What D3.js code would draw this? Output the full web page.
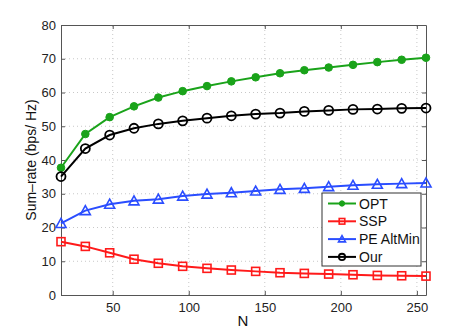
<!DOCTYPE html>
<html>
<head>
<meta charset="utf-8">
<script src="https://cdn.jsdelivr.net/npm/d3@7"></script>
<style>
  body { margin: 0; background: #fff; }
  svg { font-family: "Liberation Sans", Arial, sans-serif; }
</style>
</head>
<body>
<svg id="chart"></svg>
<script>
// Data
const N = [16, 32, 48, 64, 80, 96, 112, 128, 144, 160, 176, 192, 208, 224, 240, 256];
const opt = [37.7, 47.7, 52.7, 55.9, 58.5, 60.4, 61.9, 63.3, 64.5, 65.7, 66.6, 67.4, 68.2, 69.0, 69.7, 70.3];
const ssp = [15.8, 14.4, 12.5, 10.6, 9.4, 8.5, 7.9, 7.4, 7.0, 6.6, 6.4, 6.2, 6.0, 5.8, 5.7, 5.6];
const peAltMin = [21.2, 25.0, 26.9, 27.9, 28.4, 29.3, 29.9, 30.3, 30.8, 31.3, 31.6, 32.1, 32.5, 32.8, 33.0, 33.2];
const our = [35.1, 43.4, 47.4, 49.4, 50.7, 51.6, 52.4, 53.1, 53.6, 53.9, 54.4, 54.7, 55.0, 55.1, 55.3, 55.4];
const xTicks = [50, 100, 150, 200, 250];
const yTicks = [0, 10, 20, 30, 40, 50, 60, 70, 80];

const series = [
    { name: 'OPT', values: opt, color: '#1aa31a', marker: 'dot' },
    { name: 'SSP', values: ssp, color: '#ff1a1a', marker: 'square' },
    { name: 'PE AltMin', values: peAltMin, color: '#2a4dff', marker: 'triangle' },
    { name: 'Our', values: our, color: '#000000', marker: 'circle' }
];

const width = 471;
const height = 332;
const margin = { left: 61, right: 45, top: 25, bottom: 37 };

const svg = d3.select('#chart')
    .attr('width', width)
    .attr('height', height);

const x = d3.scaleLinear().domain([16, 256]).range([margin.left, width - margin.right]);
const y = d3.scaleLinear().domain([0, 80]).range([height - margin.bottom, margin.top]);

const x0 = x.range()[0], x1 = x.range()[1];
const y0 = y.range()[0], y1 = y.range()[1];

// Grid lines (dotted)
const grid = svg.append('g');
grid.selectAll('.vgrid')
    .data(xTicks)
    .join('line')
    .attr('x1', d => x(d)).attr('x2', d => x(d))
    .attr('y1', y0).attr('y2', y1)
    .attr('stroke', '#c8c8c8')
    .attr('stroke-dasharray', '1,3');
grid.selectAll('.hgrid')
    .data(yTicks.slice(1, -1))
    .join('line')
    .attr('x1', x0).attr('x2', x1)
    .attr('y1', d => y(d)).attr('y2', d => y(d))
    .attr('stroke', '#c8c8c8')
    .attr('stroke-dasharray', '1,3');

// Axes (MATLAB style box with ticks inside)
const axisColor = '#555';
const xAxis = svg.append('g')
    .attr('transform', `translate(0,${y0})`)
    .call(d3.axisBottom(x).tickValues(xTicks).tickSizeInner(-4).tickSizeOuter(0).tickPadding(8));
const xAxisTop = svg.append('g')
    .attr('transform', `translate(0,${y1})`)
    .call(d3.axisTop(x).tickValues(xTicks).tickSizeInner(-4).tickSizeOuter(0).tickFormat(''));
const yAxis = svg.append('g')
    .attr('transform', `translate(${x0},0)`)
    .call(d3.axisLeft(y).tickValues(yTicks).tickSizeInner(-4).tickSizeOuter(0).tickPadding(5));
const yAxisRight = svg.append('g')
    .attr('transform', `translate(${x1},0)`)
    .call(d3.axisRight(y).tickValues(yTicks).tickSizeInner(-4).tickSizeOuter(0).tickFormat(''));

[xAxis, xAxisTop, yAxis, yAxisRight].forEach(g => {
    g.select('.domain').attr('stroke', axisColor);
    g.selectAll('.tick line').attr('stroke', axisColor);
    g.selectAll('.tick text')
        .attr('fill', '#222')
        .style('font-size', '13px')
        .style('font-family', '"Liberation Sans", Arial, sans-serif');
});

// Lines
const line = d3.line()
    .x((d, i) => x(N[i]))
    .y(d => y(d));

svg.selectAll('.series')
    .data(series)
    .join('path')
    .attr('class', 'series')
    .attr('d', d => line(d.values))
    .attr('fill', 'none')
    .attr('stroke', d => d.color)
    .attr('stroke-width', 2);

// Marker drawing
function drawMarker(g, type, color, cx, cy, scale) {
    const s = scale || 1;
    if (type === 'dot') {
        g.append('circle')
            .attr('cx', cx).attr('cy', cy).attr('r', 3.8 * s)
            .attr('fill', color).attr('stroke', color).attr('stroke-width', 1);
    } else if (type === 'square') {
        const h = 4 * s;
        g.append('rect')
            .attr('x', cx - h).attr('y', cy - h)
            .attr('width', 2 * h).attr('height', 2 * h)
            .attr('fill', 'none').attr('stroke', color).attr('stroke-width', 1.6);
    } else if (type === 'triangle') {
        const h = 5 * s;
        g.append('path')
            .attr('d', `M${cx},${cy - h}L${cx + h},${cy + h * 0.8}L${cx - h},${cy + h * 0.8}Z`)
            .attr('fill', 'none').attr('stroke', color).attr('stroke-width', 1.6);
    } else if (type === 'circle') {
        g.append('circle')
            .attr('cx', cx).attr('cy', cy).attr('r', 4.5 * s)
            .attr('fill', 'none').attr('stroke', color).attr('stroke-width', 1.8);
    }
}

series.forEach(s => {
    const g = svg.append('g');
    s.values.forEach((v, i) => drawMarker(g, s.marker, s.color, x(N[i]), y(v), 1));
});

// Legend
const legend = svg.append('g');
const lx = 322, ly = 193, lw = 99, lh = 73;
legend.append('rect')
    .attr('x', lx).attr('y', ly).attr('width', lw).attr('height', lh)
    .attr('fill', '#fff').attr('stroke', '#333').attr('stroke-width', 1);
series.forEach((s, i) => {
    const cy = ly + 10.5 + i * 17.8;
    legend.append('line')
        .attr('x1', lx + 6).attr('x2', lx + 34)
        .attr('y1', cy).attr('y2', cy)
        .attr('stroke', s.color).attr('stroke-width', 2);
    drawMarker(legend, s.marker, s.color, lx + 20, cy, 0.7);
    legend.append('text')
        .attr('x', lx + 37).attr('y', cy + 5)
        .attr('fill', '#111')
        .style('font-size', '14px')
        .text(s.name);
});

// Axis labels
svg.append('text')
    .attr('x', 243)
    .attr('y', 326)
    .attr('text-anchor', 'middle')
    .style('font-size', '15px')
    .attr('fill', '#111')
    .text('N');

svg.append('text')
    .attr('transform', `translate(36,${(y0 + y1) / 2}) rotate(-90)`)
    .attr('text-anchor', 'middle')
    .style('font-size', '14px')
    .attr('fill', '#111')
    .text('Sum–rate (bps/ Hz)');
</script>
</body>
</html>
